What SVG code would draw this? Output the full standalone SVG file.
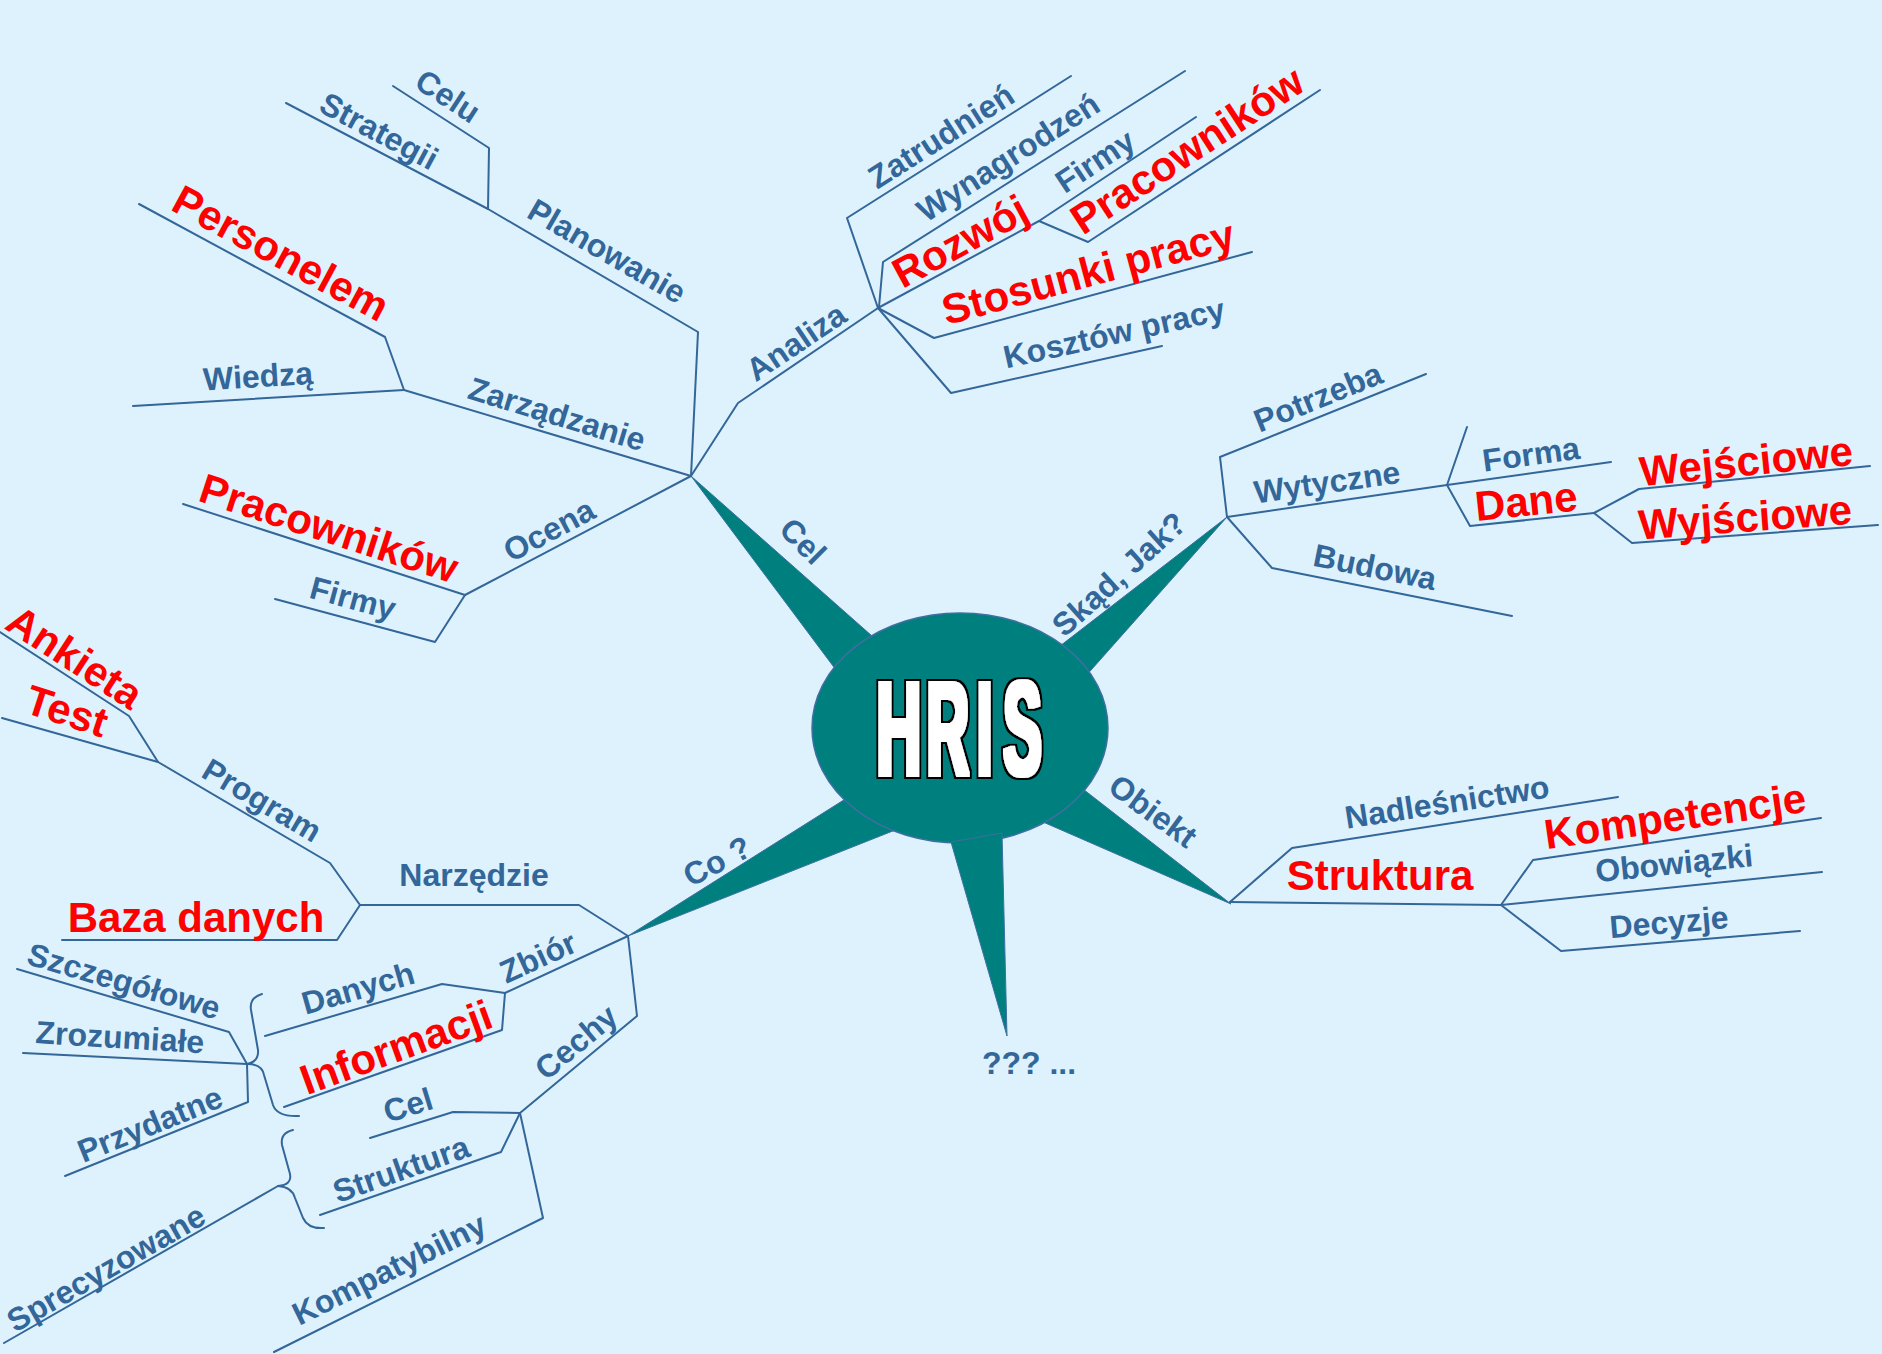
<svg xmlns="http://www.w3.org/2000/svg" width="1882" height="1354" viewBox="0 0 1882 1354">
  <defs>
    <!-- thickens the condensed lettering evenly and rims it in black -->
    <filter id="heavy" x="-10%" y="-10%" width="120%" height="120%">
      <feMorphology in="SourceAlpha" operator="dilate" radius="2.3" result="face"/>
      <feMorphology in="SourceAlpha" operator="dilate" radius="4" result="rim"/>
      <feFlood flood-color="#000000" result="black"/>
      <feComposite in="black" in2="rim" operator="in" result="rimPaint"/>
      <feFlood flood-color="#FFFFFF" result="white"/>
      <feComposite in="white" in2="face" operator="in" result="facePaint"/>
      <feMerge>
        <feMergeNode in="rimPaint"/>
        <feMergeNode in="facePaint"/>
      </feMerge>
    </filter>
  </defs>
  <style>
    .ln { fill: none; stroke: #336699; stroke-width: 2; stroke-linejoin: round; stroke-linecap: round; }
    .spike { fill: #007F7F; stroke: #3E6FA0; stroke-width: 1; }
    .b { font-family: "Liberation Sans", Arial, sans-serif; font-weight: bold; font-size: 32px; fill: #336699; text-anchor: middle; }
    .r { font-family: "Liberation Sans", Arial, sans-serif; font-weight: bold; font-size: 42px; fill: #FF0000; text-anchor: middle; }
    .hris { font-family: "Liberation Sans", Arial, sans-serif; font-weight: bold; font-size: 134px; text-anchor: middle; fill: #FFFFFF; }
  </style>

  <rect width="1882" height="1354" fill="#DEF2FD"/>

  <!-- central hub with its five spikes -->
  <g id="hris">
    <polygon class="spike" points="691,476 848,686 889,651"/>
    <polygon class="spike" points="1227,517 1047,656 1076,687"/>
    <polygon class="spike" points="1231,904 1070,779 1027,815"/>
    <polygon class="spike" points="628,936 866,786 918,821"/>
    <ellipse cx="960" cy="728" rx="148" ry="115" fill="#007F7F" stroke="#3E6FA0" stroke-width="1.5"/>
    <polygon class="spike" points="951,842 1002,833 1007,1036"/>
    <g class="hris" filter="url(#heavy)">
      <text transform="translate(898.7,775) scale(0.466,1)">H</text>
      <text transform="translate(947.8,775) scale(0.44,1)">R</text>
      <text transform="translate(984.7,775) scale(0.41,1)">I</text>
      <text transform="translate(1022.5,775) scale(0.43,1)">S</text>
    </g>
  </g>

  <!-- branch lines -->
  <g id="connectors">
    <!-- Cel -->
    <polyline class="ln" points="691,476 698,332 488,209 286,103"/>
    <polyline class="ln" points="488,209 489,148 393,86"/>
    <polyline class="ln" points="691,476 404,390 385,337 139,204"/>
    <polyline class="ln" points="404,390 133,406"/>
    <polyline class="ln" points="691,476 465,595 183,504"/>
    <polyline class="ln" points="465,595 435,642 275,599"/>
    <polyline class="ln" points="691,476 738,403 878,308"/>
    <!-- Analiza -->
    <polyline class="ln" points="878,308 847,218 1071,76"/>
    <polyline class="ln" points="879,307 883,262 1185,71"/>
    <polyline class="ln" points="878,308 1039,221 1196,117"/>
    <polyline class="ln" points="1039,221 1088,242 1320,90"/>
    <polyline class="ln" points="878,308 934,338 1252,252"/>
    <polyline class="ln" points="878,308 951,393 1162,346"/>
    <!-- Skąd, Jak? -->
    <polyline class="ln" points="1227,517 1220,457 1426,374"/>
    <polyline class="ln" points="1227,517 1447,485 1611,462"/>
    <polyline class="ln" points="1447,485 1467,427"/>
    <polyline class="ln" points="1447,485 1470,526 1594,513"/>
    <polyline class="ln" points="1594,513 1639,489 1870,466"/>
    <polyline class="ln" points="1594,513 1632,543 1878,525"/>
    <polyline class="ln" points="1227,517 1272,568 1512,616"/>
    <!-- Obiekt -->
    <polyline class="ln" points="1230,902 1292,848 1618,797"/>
    <polyline class="ln" points="1230,902 1501,905 1822,872"/>
    <polyline class="ln" points="1501,905 1533,860 1821,818"/>
    <polyline class="ln" points="1501,905 1561,951 1800,931"/>
    <!-- Co ? -->
    <polyline class="ln" points="628,936 579,905 360,905 330,863 158,762 129,716 0,632"/>
    <polyline class="ln" points="158,762 2,718"/>
    <polyline class="ln" points="360,905 337,940 62,940"/>
    <polyline class="ln" points="628,936 505,993 442,984 265,1036"/>
    <polyline class="ln" points="505,993 502,1030 284,1107"/>
    <polyline class="ln" points="628,936 637,1016 520,1113 453,1112 370,1138"/>
    <polyline class="ln" points="520,1113 501,1152 320,1215"/>
    <polyline class="ln" points="520,1113 543,1218 274,1352"/>
    <path class="ln" d="M262,994 Q249,998 251,1010 L258,1050 Q259,1062 247,1064 Q262,1064 264,1075 L273,1105 Q277,1117 299,1116"/>
    <polyline class="ln" points="247,1064 229,1032 17,969"/>
    <polyline class="ln" points="247,1064 23,1053"/>
    <polyline class="ln" points="247,1064 248,1102 65,1176"/>
    <path class="ln" d="M293,1130 Q280,1133 282,1145 L290,1174 Q292,1185 278,1186 Q292,1187 295,1198 L303,1218 Q308,1229 324,1228"/>
    <polyline class="ln" points="278,1186 4,1343"/>
  </g>

  <!-- labels of the main branches -->
  <g id="cel"><text class="b" dy="0.35em" transform="translate(803,541) rotate(45)">Cel</text></g>
  <g id="skad-jak"><text class="b" dy="0.35em" transform="translate(1119,574) rotate(-42)">Skąd, Jak?</text></g>
  <g id="obiekt"><text class="b" dy="0.35em" transform="translate(1153,811) rotate(36)">Obiekt</text></g>
  <g id="co"><text class="b" dy="0.35em" transform="translate(717,861) rotate(-28)">Co ?</text></g>
  <g id="inne"><text class="b" dy="0.35em" transform="translate(1029,1063)">??? ...</text></g>

  <!-- Cel -->
  <g id="planowanie"><text class="b" dy="0.35em" transform="translate(607,251) rotate(30)">Planowanie</text></g>
  <g id="strategii"><text class="b" dy="0.35em" transform="translate(379,131) rotate(28)">Strategii</text></g>
  <g id="celu"><text class="b" dy="0.35em" transform="translate(448,96) rotate(33)">Celu</text></g>
  <g id="zarzadzanie"><text class="b" dy="0.35em" transform="translate(557,414) rotate(17)">Zarządzanie</text></g>
  <g id="personelem"><text class="r" dy="0.35em" transform="translate(281,253) rotate(28.4)">Personelem</text></g>
  <g id="wiedza"><text class="b" dy="0.35em" transform="translate(258,376) rotate(-3.5)">Wiedzą</text></g>
  <g id="ocena"><text class="b" dy="0.35em" transform="translate(549,530) rotate(-28)">Ocena</text></g>
  <g id="ocena-pracownikow"><text class="r" dy="0.35em" transform="translate(329,528) rotate(18)">Pracowników</text></g>
  <g id="ocena-firmy"><text class="b" dy="0.35em" transform="translate(353,598) rotate(15)">Firmy</text></g>
  <g id="analiza"><text class="b" dy="0.35em" transform="translate(796,342) rotate(-34)">Analiza</text></g>

  <!-- Analiza -->
  <g id="zatrudnien"><text class="b" dy="0.35em" transform="translate(941,136) rotate(-32.5)">Zatrudnień</text></g>
  <g id="wynagrodzen"><text class="b" dy="0.35em" transform="translate(1008,157) rotate(-32.7)">Wynagrodzeń</text></g>
  <g id="rozwoj"><text class="r" dy="0.35em" transform="translate(960,241) rotate(-28.5)">Rozwój</text></g>
  <g id="rozwoj-firmy"><text class="b" dy="0.35em" transform="translate(1095,161) rotate(-33.4)">Firmy</text></g>
  <g id="rozwoj-pracownikow"><text class="r" dy="0.35em" transform="translate(1187,150) rotate(-33.2)">Pracowników</text></g>
  <g id="stosunki-pracy"><text class="r" dy="0.35em" transform="translate(1088,272) rotate(-15)">Stosunki pracy</text></g>
  <g id="kosztow-pracy"><text class="b" dy="0.35em" transform="translate(1114,333) rotate(-12.6)">Kosztów pracy</text></g>

  <!-- Skąd, Jak? -->
  <g id="potrzeba"><text class="b" dy="0.35em" transform="translate(1318,397) rotate(-22)">Potrzeba</text></g>
  <g id="wytyczne"><text class="b" dy="0.35em" transform="translate(1327,482) rotate(-8.2)">Wytyczne</text></g>
  <g id="forma"><text class="b" dy="0.35em" transform="translate(1531,454) rotate(-7.7)">Forma</text></g>
  <g id="dane"><text class="r" dy="0.35em" transform="translate(1526,501) rotate(-6)">Dane</text></g>
  <g id="wejsciowe"><text class="r" dy="0.35em" transform="translate(1746,461) rotate(-5.7)">Wejściowe</text></g>
  <g id="wyjsciowe"><text class="r" dy="0.35em" transform="translate(1745,517) rotate(-4.2)">Wyjściowe</text></g>
  <g id="budowa"><text class="b" dy="0.35em" transform="translate(1375,567) rotate(11.5)">Budowa</text></g>

  <!-- Obiekt -->
  <g id="nadlesnictwo"><text class="b" dy="0.35em" transform="translate(1447,802) rotate(-8.8)">Nadleśnictwo</text></g>
  <g id="struktura"><text class="r" dy="0.35em" transform="translate(1380,875)">Struktura</text></g>
  <g id="kompetencje"><text class="r" dy="0.35em" transform="translate(1675,816) rotate(-8.2)">Kompetencje</text></g>
  <g id="obowiazki"><text class="b" dy="0.35em" transform="translate(1674,863) rotate(-5.8)">Obowiązki</text></g>
  <g id="decyzje"><text class="b" dy="0.35em" transform="translate(1669,922) rotate(-4.9)">Decyzje</text></g>

  <!-- Co ? -->
  <g id="narzedzie"><text class="b" dy="0.35em" transform="translate(474,875)">Narzędzie</text></g>
  <g id="program"><text class="b" dy="0.35em" transform="translate(262,800) rotate(30.6)">Program</text></g>
  <g id="ankieta"><text class="r" dy="0.35em" transform="translate(75,657) rotate(33)">Ankieta</text></g>
  <g id="test"><text class="r" dy="0.35em" transform="translate(67,711) rotate(18)">Test</text></g>
  <g id="baza-danych"><text class="r" dy="0.35em" transform="translate(196,917)">Baza danych</text></g>
  <g id="zbior"><text class="b" dy="0.35em" transform="translate(538,957) rotate(-24.7)">Zbiór</text></g>
  <g id="danych"><text class="b" dy="0.35em" transform="translate(358,988) rotate(-16)">Danych</text></g>
  <g id="informacji"><text class="r" dy="0.35em" transform="translate(396,1047) rotate(-20)">Informacji</text></g>
  <g id="szczegolowe"><text class="b" dy="0.35em" transform="translate(124,981) rotate(16.4)">Szczegółowe</text></g>
  <g id="zrozumiale"><text class="b" dy="0.35em" transform="translate(120,1037) rotate(3.5)">Zrozumiałe</text></g>
  <g id="przydatne"><text class="b" dy="0.35em" transform="translate(150,1124) rotate(-22)">Przydatne</text></g>
  <g id="cechy"><text class="b" dy="0.35em" transform="translate(576,1042) rotate(-40)">Cechy</text></g>
  <g id="cechy-cel"><text class="b" dy="0.35em" transform="translate(408,1105) rotate(-17)">Cel</text></g>
  <g id="cechy-struktura"><text class="b" dy="0.35em" transform="translate(401,1169) rotate(-19.4)">Struktura</text></g>
  <g id="sprecyzowane"><text class="b" dy="0.35em" transform="translate(106,1268) rotate(-29.8)">Sprecyzowane</text></g>
  <g id="kompatybilny"><text class="b" dy="0.35em" transform="translate(389,1269) rotate(-26.3)">Kompatybilny</text></g>
</svg>
